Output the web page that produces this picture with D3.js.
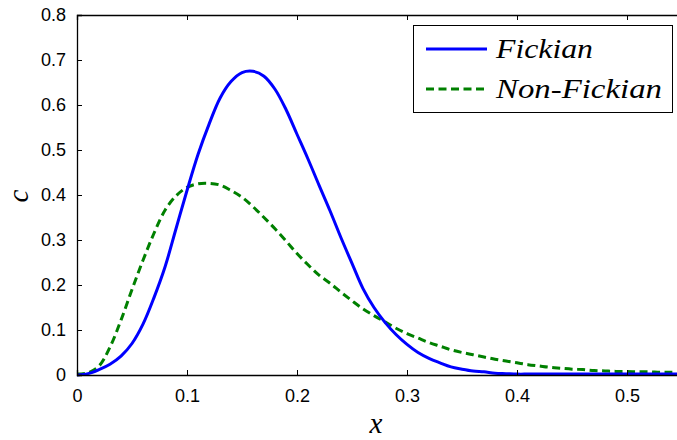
<!DOCTYPE html>
<html>
<head>
<meta charset="utf-8">
<script src="https://cdn.jsdelivr.net/npm/d3@7"></script>
<style>
  html, body { margin: 0; padding: 0; background: #fff; }
  svg { display: block; }
</style>
</head>
<body>
<svg id="chart" width="677" height="440"></svg>
<script>
const xValues = [0,0.01,0.02,0.03,0.04,0.05,0.06,0.07,0.08,0.09,0.10,0.11,0.12,0.13,0.14,0.15,0.16,0.17,0.18,0.19,0.20,0.21,0.22,0.23,0.24,0.25,0.26,0.27,0.28,0.29,0.30,0.31,0.32,0.33,0.34,0.35,0.36,0.37,0.38,0.39,0.40,0.41,0.42,0.43,0.44,0.45,0.46,0.47,0.48,0.49,0.50,0.51,0.52,0.53,0.54,0.55];
const fickian = [0,0.003,0.012,0.024,0.042,0.07,0.113,0.172,0.24,0.325,0.41,0.49,0.557,0.615,0.652,0.672,0.675,0.664,0.635,0.59,0.535,0.48,0.422,0.365,0.305,0.248,0.192,0.15,0.117,0.09,0.068,0.05,0.037,0.027,0.018,0.013,0.009,0.007,0.004,0.003,0.002,0.002,0.002,0.002,0.002,0.002,0.002,0.002,0.002,0.002,0.002,0.002,0.002,0.002,0.002,0.002];
const nonFickian = [0.002,0.005,0.02,0.062,0.122,0.19,0.255,0.315,0.366,0.398,0.417,0.425,0.426,0.422,0.41,0.395,0.374,0.35,0.325,0.298,0.27,0.245,0.222,0.204,0.184,0.165,0.147,0.132,0.118,0.104,0.092,0.082,0.072,0.064,0.056,0.05,0.045,0.04,0.035,0.031,0.027,0.023,0.02,0.017,0.015,0.013,0.012,0.01,0.009,0.008,0.008,0.007,0.007,0.006,0.006,0.006];
const xTicks = [0,0.1,0.2,0.3,0.4,0.5];
const yTicks = [0,0.1,0.2,0.3,0.4,0.5,0.6,0.7,0.8];
const seriesNames = ["Fickian","Non-Fickian"];

const svg = d3.select("#chart");
const L = 77, R = 682, T = 15, B = 375;
const x = d3.scaleLinear().domain([0,0.55]).range([L,R]);
const y = d3.scaleLinear().domain([0,0.8]).range([B,T]);

const tickFont = "Liberation Sans, Arial, Helvetica, sans-serif";
const serif = "Liberation Serif, Times New Roman, serif";
const tlen = 5;

svg.append("rect").attr("x",L).attr("y",T).attr("width",R-L).attr("height",B-T).attr("fill","#fff");

svg.append("clipPath").attr("id","clip").append("rect")
  .attr("x",L).attr("y",T-2).attr("width",R-L).attr("height",B-T+4);
const g = svg.append("g").attr("clip-path","url(#clip)");
const line = d3.line().x((d,i)=>x(xValues[i])).y(d=>y(d)).curve(d3.curveCatmullRom.alpha(0.5));
g.append("path").datum(nonFickian).attr("d",line).attr("fill","none")
  .attr("stroke","#008000").attr("stroke-width",3).attr("stroke-dasharray","8,4.5");
g.append("path").datum(fickian).attr("d",line).attr("fill","none")
  .attr("stroke","#0000ff").attr("stroke-width",3);

const fmt = d=>d===0?"0":d3.format(".1f")(d);
const axB = svg.append("g").attr("transform",`translate(0,${B})`)
  .call(d3.axisBottom(x).tickValues(xTicks).tickSize(-tlen).tickPadding(14).tickFormat(fmt));
const axT = svg.append("g").attr("transform",`translate(0,${T})`)
  .call(d3.axisTop(x).tickValues(xTicks).tickSize(-tlen).tickFormat(""));
const axL = svg.append("g").attr("transform",`translate(${L},0)`)
  .call(d3.axisLeft(y).tickValues(yTicks).tickSize(-tlen).tickPadding(11).tickFormat(fmt));
const axR = svg.append("g").attr("transform",`translate(${R},0)`)
  .call(d3.axisRight(y).tickValues(yTicks).tickSize(-tlen).tickFormat(""));
[axB,axT,axL,axR].forEach(a=>{
  a.select(".domain").attr("stroke","#000").attr("stroke-width",1.3);
  a.selectAll(".tick line").attr("stroke","#000").attr("stroke-width",1);
  a.selectAll("text").attr("font-family",tickFont).attr("font-size",18).attr("fill","#000");
});
axB.selectAll("text").attr("dy","0.71em").attr("y",14);

svg.append("text").attr("x",376).attr("y",433).attr("text-anchor","middle")
  .attr("font-family",serif).attr("font-style","italic")
  .attr("font-size",29).text("x");
svg.append("text").attr("transform","translate(28,196) rotate(-90)").attr("text-anchor","middle")
  .attr("font-family",serif).attr("font-style","italic")
  .attr("font-size",29).text("c");

const lg = svg.append("g");
lg.append("rect").attr("x",413.5).attr("y",25.5).attr("width",259).attr("height",87)
  .attr("fill","#fff").attr("stroke","#000").attr("stroke-width",1);
const legY = [49, 89];
const legW = [97, 166];
const styles = [{c:"#0000ff",d:null},{c:"#008000",d:"8,4.5"}];
seriesNames.forEach((n,i)=>{
  lg.append("line").attr("x1",426).attr("x2",487).attr("y1",legY[i]).attr("y2",legY[i])
    .attr("stroke",styles[i].c).attr("stroke-width",3).attr("stroke-dasharray",styles[i].d);
  lg.append("text").attr("x",496).attr("y",legY[i]+9)
    .attr("font-family",serif).attr("font-style","italic")
    .attr("font-size",28).attr("fill","#000")
    .attr("textLength",legW[i]).attr("lengthAdjust","spacingAndGlyphs").text(n);
});
</script>
</body>
</html>
